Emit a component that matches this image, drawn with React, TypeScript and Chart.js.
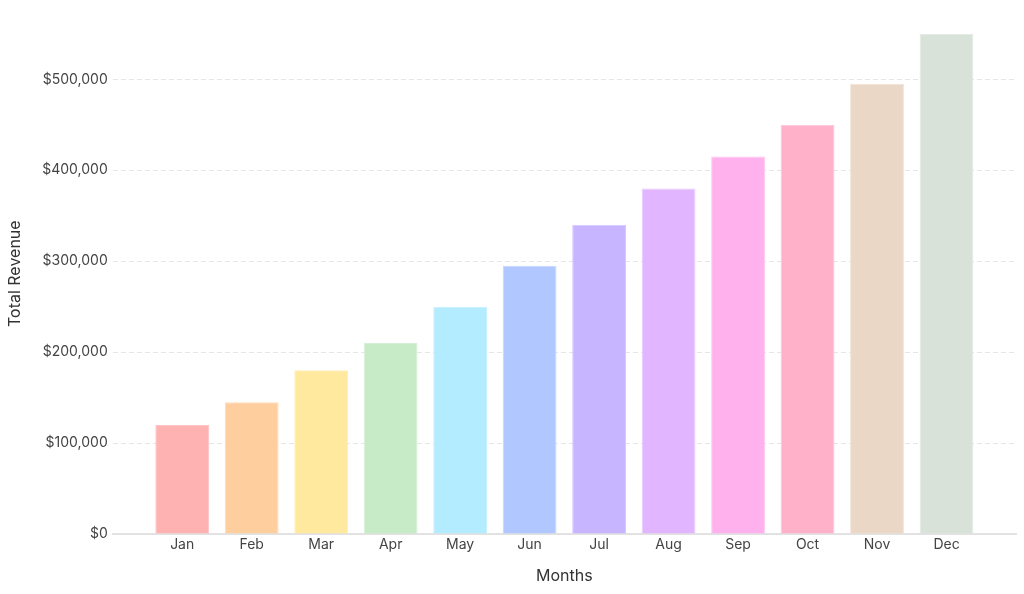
import React, { useEffect, useRef } from "react";
import { Chart, registerables } from "chart.js";

Chart.register(...registerables);

const months = ["Jan", "Feb", "Mar", "Apr", "May", "Jun", "Jul", "Aug", "Sep", "Oct", "Nov", "Dec"];
const revenue = [120000, 145000, 180000, 210000, 250000, 295000, 340000, 380000, 415000, 450000, 495000, 550000];
const fillColors = [
  "#FFB2B2", "#FFCE9F", "#FFE99F", "#C7EBC7", "#B3ECFF", "#B1C7FF",
  "#C8B5FF", "#E1B5FF", "#FFB1EE", "#FFB1C9", "#EBD7C6", "#D8E2D8",
];
const borderColors = [
  "#FFC4C4", "#FFDAB5", "#FFF0B8", "#D6F0D6", "#C8F1FF", "#C6D6FF",
  "#D6C8FF", "#EAC8FF", "#FFC6F2", "#FFC6D7", "#F1E2D6", "#E3EAE3",
];
const yTickValues = [0, 100000, 200000, 300000, 400000, 500000];
const yMax = 572500;

export default function App() {
  const canvasRef = useRef<HTMLCanvasElement | null>(null);

  useEffect(() => {
    document.body.style.margin = "0";
    const canvas = canvasRef.current;
    if (!canvas) return;
    const font = "Inter, 'Open Sans', sans-serif";
    const chart = new Chart(canvas, {
      type: "bar",
      data: {
        datasets: [
          {
            label: "Total Revenue",
            data: revenue.map((v, i) => ({ x: i + 1, y: v })),
            backgroundColor: fillColors,
            borderColor: borderColors,
            borderWidth: 1,
            categoryPercentage: 0.86,
            barPercentage: 0.9,
          },
        ],
      },
      options: {
        animation: false,
        responsive: true,
        maintainAspectRatio: false,
        layout: { padding: { top: 7, right: 8, left: 6, bottom: 8 } },
        plugins: {
          legend: { display: false },
          tooltip: { enabled: false },
        },
        scales: {
          x: {
            type: "linear",
            offset: false,
            min: 0,
            max: months.length + 1,
            afterBuildTicks: (axis: any) => {
              axis.ticks = months.map((_, i) => ({ value: i + 1 }));
            },
            ticks: {
              autoSkip: false,
              color: "#444",
              font: { family: font, size: 14 },
              padding: 2,
              callback: (v: any) => months[Number(v) - 1] ?? "",
            },
            grid: { display: false, drawTicks: false, offset: false },
            border: { display: true, color: "#e2e2e2", width: 2 },
            title: {
              display: true,
              text: "Months",
              color: "#333",
              font: { family: font, size: 16 },
              padding: { top: 12, bottom: 0 },
            },
          },
          y: {
            type: "linear",
            min: 0,
            max: yMax,
            afterBuildTicks: (axis: any) => {
              axis.ticks = yTickValues.map((v) => ({ value: v }));
            },
            ticks: {
              autoSkip: false,
              color: "#444",
              font: { family: font, size: 14 },
              padding: 5,
              callback: (v: any) => "$" + Number(v).toLocaleString("en-US"),
            },
            grid: { color: "#e6e6e6", drawTicks: false, lineWidth: 1 },
            border: { display: false, dash: [5, 3] },
            title: {
              display: true,
              text: "Total Revenue",
              color: "#333",
              font: { family: font, size: 16 },
              padding: { top: 0, bottom: 12 },
            },
          },
        },
      },
    });
    return () => chart.destroy();
  }, []);

  return (
    <div style={{ width: 1024, height: 594, position: "relative" }}>
      <canvas ref={canvasRef} />
    </div>
  );
}
